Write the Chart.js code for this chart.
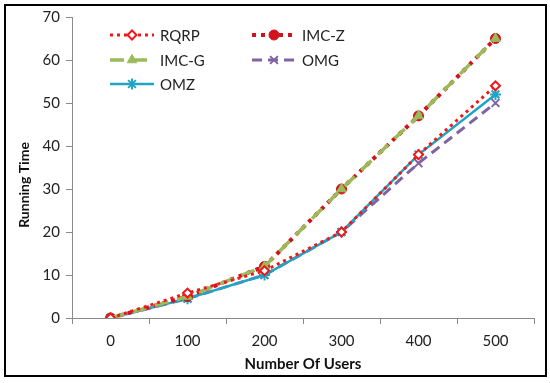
<!DOCTYPE html>
<html>
<head>
<meta charset="utf-8">
<script src="https://cdn.jsdelivr.net/npm/chart.js@4/dist/chart.umd.min.js"></script>
<style>
  html, body { margin: 0; padding: 0; background: #fff; }
  #wrap { width: 550px; height: 383px; }
</style>
</head>
<body>
<div id="wrap"><canvas id="grafico" width="550" height="383"></canvas></div>
<script>
// -----------------------------
// Datos
// -----------------------------
const usuarios = ['0', '100', '200', '300', '400', '500'];
const rqrp = [0, 5.8, 11, 20, 38, 54];
const imcZ = [0, 5, 12, 30, 47, 65];
const imcG = [0, 5, 12, 30, 47, 65];
const omg  = [0, 4.5, 10, 20, 36, 50];
const omz  = [0, 4.5, 10, 20, 38, 52];
const yTicks = [0, 10, 20, 30, 40, 50, 60, 70];
const tituloX = 'Number Of Users';
const tituloY = 'Running Time';

const FONT = 'Lato, "Liberation Sans", sans-serif';

const series = [
  { label: 'RQRP',  data: rqrp, color: '#F01818', dash: [3, 4],  width: 3,   style: 'rectRot',  radius: 4.5, fill: '#ffffff', bw: 2, order: 1 },
  { label: 'IMC-Z', data: imcZ, color: '#D0141B', dash: [4, 5],  width: 4,   style: 'circle',   radius: 5,   fill: '#D0141B', bw: 1, order: 3 },
  { label: 'IMC-G', data: imcG, color: '#9BBB59', dash: [14, 9], width: 3.5, style: 'triangle', radius: 5.5, fill: '#9BBB59', bw: 1, order: 2 },
  { label: 'OMG',   data: omg,  color: '#8064A2', dash: [10, 6], width: 3,   style: 'crossRot', radius: 5.5, fill: '#8064A2', bw: 2, order: 5 },
  { label: 'OMZ',   data: omz,  color: '#1FA5C4', dash: [],      width: 2.5, style: 'star',     radius: 5.5, fill: '#1FA5C4', bw: 2, order: 4 }
];

// -----------------------------
// Leyenda, titulo Y y marco
// -----------------------------
const leyenda = {
  id: 'leyenda',
  beforeDraw(chart) {
    const c = chart.ctx;
    c.save();
    c.fillStyle = '#fff';
    c.fillRect(0, 0, chart.width, chart.height);
    c.restore();
  },
  afterDraw(chart) {
    const c = chart.ctx;
    c.save();
    // marco
    c.strokeStyle = '#000';
    c.lineWidth = 2;
    c.strokeRect(5, 5, 541, 371);
    // titulo eje Y (algo por debajo del centro, como el original)
    c.save();
    c.translate(24, 185);
    c.rotate(-Math.PI / 2);
    c.fillStyle = '#111';
    c.font = 'bold 14px ' + FONT;
    c.textAlign = 'center';
    c.textBaseline = 'middle';
    c.fillText(tituloY, 0, 0);
    c.restore();
    // items
    const slots = [[110, 35], [252, 35], [110, 60], [252, 60], [110, 84]];
    series.forEach((s, i) => {
      const [x, y] = slots[i];
      c.strokeStyle = s.color;
      c.lineWidth = s.width;
      c.setLineDash(s.dash);
      c.beginPath();
      c.moveTo(x, y);
      c.lineTo(x + 44, y);
      c.stroke();
      c.setLineDash([]);
      c.fillStyle = s.fill;
      c.strokeStyle = s.color;
      c.lineWidth = s.bw;
      Chart.helpers.drawPoint(c, { pointStyle: s.style, radius: s.radius, rotation: 0, borderWidth: s.bw }, x + 22, y);
      c.fillStyle = '#222';
      c.font = '15px ' + FONT;
      c.textBaseline = 'middle';
      c.textAlign = 'left';
      c.fillText(s.label, x + 50, y + 1);
    });
    c.restore();
  }
};

// -----------------------------
// Grafico
// -----------------------------
new Chart(document.getElementById('grafico'), {
  type: 'line',
  data: {
    labels: usuarios,
    datasets: series.map(s => ({
      label: s.label,
      data: s.data,
      borderColor: s.color,
      borderWidth: s.width,
      borderDash: s.dash,
      pointStyle: s.style,
      pointRadius: s.radius,
      pointBackgroundColor: s.fill,
      pointBorderColor: s.color,
      pointBorderWidth: s.bw,
      tension: 0,
      fill: false,
      order: s.order
    }))
  },
  options: {
    responsive: false,
    animation: false,
    layout: { padding: { left: 0, right: 16, top: 17, bottom: 0 } },
    plugins: { legend: { display: false }, tooltip: { enabled: false } },
    scales: {
      x: {
        type: 'category',
        offset: true,
        grid: { offset: true, drawOnChartArea: false, drawTicks: true, tickLength: 6, color: '#8a8a8a' },
        border: { color: '#8a8a8a', width: 1 },
        ticks: { color: '#222', font: { family: FONT, size: 15 }, padding: 8, maxRotation: 0 },
        title: { display: true, text: tituloX, color: '#111', font: { family: FONT, size: 15, weight: 'bold' }, padding: { top: 2, bottom: 10 } },
        afterFit(scale) { scale.height = 65; }
      },
      y: {
        min: 0,
        max: 70,
        afterBuildTicks(scale) { scale.ticks = yTicks.map(v => ({ value: v })); },
        grid: { drawOnChartArea: false, drawTicks: true, tickLength: 6, color: '#8a8a8a' },
        border: { color: '#8a8a8a', width: 1 },
        ticks: { color: '#222', font: { family: FONT, size: 15 }, padding: 6 },
        afterFit(scale) { scale.width = 72; }
      }
    }
  },
  plugins: [leyenda]
});
</script>
</body>
</html>
